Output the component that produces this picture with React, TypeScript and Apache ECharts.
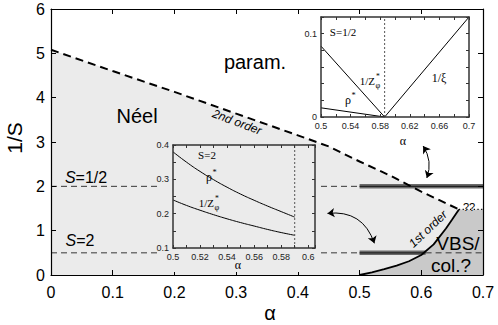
import React, { useEffect, useRef } from 'react';
import * as echarts from 'echarts';

const SANS = '"Liberation Sans", Arial, Helvetica, sans-serif';
const SERIF = '"Liberation Serif", "Times New Roman", serif';

// ---- main phase diagram (alpha vs 1/S) ----
const secondOrderAlpha = [0, 0.1, 0.2, 0.3, 0.4, 0.45, 0.5, 0.55, 0.6, 0.661];
const secondOrderInvS = [5.08, 4.6, 4.13, 3.64, 3.15, 2.9, 2.56, 2.24, 1.88, 1.48];
const firstOrderAlpha = [0.5, 0.52, 0.54, 0.56, 0.58, 0.6, 0.62, 0.64, 0.65, 0.661];
const firstOrderInvS = [0, 0.06, 0.13, 0.21, 0.31, 0.45, 0.69, 1.05, 1.25, 1.48];
const endpointAlpha = 0.661;
const endpointInvS = 1.48;
const alphaMax = 0.7;
const invSMax = 6;
const spinInvS = [2, 0.5]; // S=1/2, S=2
const thickFrom = [0.5, 0.5];
const thickTo = [0.7, 0.607];
const arrowFrom = [[0.603, 2.91], [0.448, 1.39]];
const arrowTo = [[0.609, 2.19], [0.524, 0.715]];
const arrowCurve = [0.25, 0.4];

// ---- inset 1 (S=1/2) ----
const in1Critical = 0.586;
const in1Start = 0.5;
const in1End = 0.7;
const in1InvZ = [0.085, 0]; // at in1Start, in1Critical
const in1Rho = [0.011, 0];
const in1InvXi = [0, 0.12]; // at in1Critical, in1End
const in1YMax = 0.12;

// ---- inset 2 (S=2) ----
const in2Alpha = [0.5, 0.51, 0.52, 0.53, 0.54, 0.55, 0.56, 0.57, 0.58, 0.59];
const in2Rho = [0.38, 0.35, 0.323, 0.299, 0.277, 0.257, 0.239, 0.222, 0.206, 0.19];
const in2InvZ = [0.24, 0.224, 0.21, 0.197, 0.185, 0.174, 0.164, 0.154, 0.145, 0.137];
const in2Critical = 0.59;
const in2XMax = 0.605;

const pairs = (xs: number[], ys: number[]) => xs.map((x, i) => [x, ys[i]]);

const lineBase = { type: 'line', showSymbol: false, symbol: 'none', silent: true };

function mainAxisX(pos: 'bottom' | 'top') {
  return {
    type: 'value', gridIndex: 0, position: pos, min: 0, max: alphaMax, interval: 0.1, z: 3,
    axisLine: { show: true, onZero: false, lineStyle: { color: '#000', width: 1.2 } },
    axisTick: { show: true, inside: true, length: 5, lineStyle: { color: '#000', width: 1 } },
    axisLabel: { show: pos === 'bottom', fontSize: 16, fontFamily: SANS, color: '#000', margin: 9 },
    splitLine: { show: false },
  };
}
function mainAxisY(pos: 'left' | 'right') {
  return {
    type: 'value', gridIndex: 0, position: pos, min: 0, max: invSMax, interval: 1, z: 3,
    axisLine: { show: true, onZero: false, lineStyle: { color: '#000', width: 1.2 } },
    axisTick: { show: true, inside: true, length: 5, lineStyle: { color: '#000', width: 1 } },
    axisLabel: { show: pos === 'left', fontSize: 16, fontFamily: SANS, color: '#000', margin: 6 },
    splitLine: { show: false },
  };
}
function insetAxis(gridIndex: number, pos: string, min: number, max: number, interval: number, fmt: (v: number) => string) {
  const showLabel = pos === 'bottom' || pos === 'left';
  return {
    type: 'value', gridIndex, position: pos, min, max, interval, z: 8,
    axisLine: { show: true, onZero: false, lineStyle: { color: '#333', width: 1.5 } },
    axisTick: { show: true, inside: true, length: 3, lineStyle: { color: '#333', width: 1 } },
    axisLabel: { show: showLabel, fontSize: 9, fontFamily: SANS, color: '#222', margin: 4, formatter: fmt, showMaxLabel: true },
    splitLine: { show: false },
  };
}
const everyOther = (base: number, step: number, digits: number) => (v: number) => {
  const k = Math.round((v - base) / step);
  if (Math.abs(v - (base + k * step)) > 1e-6 || k % 2 !== 0) return '';
  return String(+v.toFixed(digits));
};
const in1YFmt = (v: number) => (Math.abs(v) < 1e-9 ? '0' : Math.abs(v - 0.1) < 1e-6 ? '0.1' : '');

function txt(x: number, y: number, text: string, fontSize: number, opts: any = {}) {
  return {
    type: 'text', x, y, z: 10, rotation: opts.rotation || 0,
    style: {
      text, fontSize, fontFamily: opts.fontFamily || SANS, fontStyle: opts.fontStyle || 'normal',
      fill: '#000', align: opts.align || 'center', verticalAlign: 'middle', rich: opts.rich,
    },
  };
}
function zLabel(x: number, y: number, fs: number) {
  return {
    type: 'group', x, y, z: 10,
    children: [
      { type: 'text', x: 0, y: 0, z: 10, style: { text: '1/Z', fontSize: fs, fontFamily: SERIF, fill: '#000', align: 'right', verticalAlign: 'middle' } },
      { type: 'text', x: 1, y: -fs * 0.4, z: 10, style: { text: '*', fontSize: fs * 0.7, fontFamily: SERIF, fill: '#000', align: 'left', verticalAlign: 'middle' } },
      { type: 'text', x: 0.5, y: fs * 0.4, z: 10, style: { text: 'φ', fontSize: fs * 0.75, fontFamily: SERIF, fill: '#000', align: 'left', verticalAlign: 'middle' } },
    ],
  };
}
function rhoLabel(x: number, y: number, fs: number) {
  return {
    type: 'group', x, y, z: 10,
    children: [
      { type: 'text', x: 0, y: 0, z: 10, style: { text: 'ρ', fontSize: fs, fontFamily: SERIF, fill: '#000', align: 'right', verticalAlign: 'middle' } },
      { type: 'text', x: 0.5, y: -fs * 0.35, z: 10, style: { text: '*', fontSize: fs * 0.7, fontFamily: SERIF, fill: '#000', align: 'left', verticalAlign: 'middle' } },
    ],
  };
}

export default function App() {
  const ref = useRef<HTMLDivElement>(null);
  useEffect(() => {
    document.body.style.margin = '0';
    if (!ref.current) return;
    const chart = echarts.init(ref.current, null, { renderer: 'svg' });

    const series: any[] = [];
    // light grey Neel area below 2nd order line
    series.push({ ...lineBase, xAxisIndex: 0, yAxisIndex: 0, z: 2,
      data: pairs(secondOrderAlpha, secondOrderInvS),
      lineStyle: { width: 0 }, areaStyle: { color: '#ebebeb', opacity: 1 } });
    // darker VBS area
    series.push({ ...lineBase, xAxisIndex: 0, yAxisIndex: 0, z: 2,
      data: [...pairs(firstOrderAlpha, firstOrderInvS), [alphaMax, endpointInvS]],
      lineStyle: { width: 0 }, areaStyle: { color: '#c9c9c9', opacity: 1 } });
    // thin dashed spin levels
    spinInvS.forEach((lvl, i) => {
      series.push({ ...lineBase, xAxisIndex: 0, yAxisIndex: 0, z: 2,
        data: [[0, lvl], [thickFrom[i], lvl]],
        lineStyle: { color: '#222', width: 0.9, type: [6, 4] } });
      if (thickTo[i] < alphaMax) {
        series.push({ ...lineBase, xAxisIndex: 0, yAxisIndex: 0, z: 2,
          data: [[thickTo[i], lvl], [alphaMax, lvl]],
          lineStyle: { color: '#222', width: 0.9, type: [6, 4] } });
      }
      series.push({ ...lineBase, xAxisIndex: 0, yAxisIndex: 0, z: 2,
        data: [[thickFrom[i], lvl], [thickTo[i], lvl]],
        lineStyle: { color: '#6a6a6a', width: 4.5 } });
      series.push({ ...lineBase, xAxisIndex: 0, yAxisIndex: 0, z: 2,
        data: [[thickFrom[i], lvl], [thickTo[i], lvl]],
        lineStyle: { color: '#222', width: 1.4 } });
    });
    // 1st order line
    series.push({ ...lineBase, xAxisIndex: 0, yAxisIndex: 0, z: 2,
      data: pairs(firstOrderAlpha, firstOrderInvS),
      lineStyle: { color: '#000', width: 1.8 } });
    // dotted line from endpoint
    series.push({ ...lineBase, xAxisIndex: 0, yAxisIndex: 0, z: 2,
      data: [[endpointAlpha, endpointInvS], [alphaMax, endpointInvS]],
      lineStyle: { color: '#000', width: 1.2, type: [1.2, 2.5] } });
    // 2nd order dashed line
    series.push({ ...lineBase, xAxisIndex: 0, yAxisIndex: 0, z: 2,
      data: pairs(secondOrderAlpha, secondOrderInvS),
      lineStyle: { color: '#000', width: 2, type: [8, 5] } });
    // arrows
    series.push({ type: 'lines', coordinateSystem: 'cartesian2d', xAxisIndex: 0, yAxisIndex: 0, z: 9, silent: true,
      symbol: ['arrow', 'arrow'], symbolSize: 7,
      lineStyle: { color: '#000', width: 1, opacity: 1 },
      data: arrowFrom.map((f, i) => ({ coords: [f, arrowTo[i]], lineStyle: { curveness: arrowCurve[i] } })) });

    // inset 1
    series.push({ ...lineBase, xAxisIndex: 2, yAxisIndex: 2, z: 7,
      data: [[in1Start, in1InvZ[0]], [in1Critical, in1InvZ[1]]], lineStyle: { color: '#000', width: 1 } });
    series.push({ ...lineBase, xAxisIndex: 2, yAxisIndex: 2, z: 7,
      data: [[in1Start, in1Rho[0]], [in1Critical, in1Rho[1]]], lineStyle: { color: '#000', width: 1 } });
    series.push({ ...lineBase, xAxisIndex: 2, yAxisIndex: 2, z: 7,
      data: [[in1Critical, in1InvXi[0]], [in1End, in1InvXi[1]]], lineStyle: { color: '#000', width: 1 } });
    series.push({ ...lineBase, xAxisIndex: 2, yAxisIndex: 2, z: 7,
      data: [[in1Critical, 0], [in1Critical, in1YMax]], lineStyle: { color: '#555', width: 1, type: [2, 2] } });

    // inset 2
    series.push({ ...lineBase, xAxisIndex: 4, yAxisIndex: 4, z: 7,
      data: pairs(in2Alpha, in2Rho), smooth: true, lineStyle: { color: '#000', width: 1 } });
    series.push({ ...lineBase, xAxisIndex: 4, yAxisIndex: 4, z: 7,
      data: pairs(in2Alpha, in2InvZ), smooth: true, lineStyle: { color: '#000', width: 1 } });
    series.push({ ...lineBase, xAxisIndex: 4, yAxisIndex: 4, z: 7,
      data: [[in2Critical, 0.1], [in2Critical, 0.4]], lineStyle: { color: '#555', width: 1, type: [2, 2] } });

    const in2XFmt = everyOther(0.5, 0.01, 2);
    const in2YFmt = everyOther(0.1, 0.05, 1);
    const in1XFmt = everyOther(0.5, 0.02, 2);

    chart.setOption({
      animation: false,
      backgroundColor: '#fff',
      grid: [
        { left: 51, top: 9, width: 432, height: 266, show: false },
        { left: 321, top: 17, width: 148, height: 100, show: true, backgroundColor: '#fff', borderWidth: 0, z: 6 },
        { left: 173, top: 145, width: 142, height: 103, show: false },
      ],
      xAxis: [
        mainAxisX('bottom'), mainAxisX('top'),
        insetAxis(1, 'bottom', in1Start, in1End, 0.02, in1XFmt), insetAxis(1, 'top', in1Start, in1End, 0.02, in1XFmt),
        insetAxis(2, 'bottom', 0.5, in2XMax, 0.01, in2XFmt), insetAxis(2, 'top', 0.5, in2XMax, 0.01, in2XFmt),
      ],
      yAxis: [
        mainAxisY('left'), mainAxisY('right'),
        insetAxis(1, 'left', 0, in1YMax, 0.02, in1YFmt), insetAxis(1, 'right', 0, in1YMax, 0.02, in1YFmt),
        insetAxis(2, 'left', 0.1, 0.4, 0.05, in2YFmt), insetAxis(2, 'right', 0.1, 0.4, 0.05, in2YFmt),
      ],
      series,
      graphic: [
        { type: 'rect', z: 5, silent: true, shape: { x: 157, y: 143, width: 161, height: 129 }, style: { fill: '#ebebeb' } },
        txt(14, 138, '1/S', 21, { rotation: Math.PI / 2 }),
        txt(270, 313, 'α', 20),
        txt(255, 62, 'param.', 20),
        txt(137, 116, 'Néel', 20),
        txt(237, 122, '2nd order', 12, { rotation: -0.36, fontStyle: 'italic' }),
        txt(428, 229, '1st order', 12, { rotation: 0.76, fontStyle: 'italic' }),
        txt(86, 177, '{i|S}=1/2', 16, { rich: { i: { fontStyle: 'italic', fontSize: 16, fontFamily: SANS, fill: '#000' } } }),
        txt(80, 240, '{i|S}=2', 16, { rich: { i: { fontStyle: 'italic', fontSize: 16, fontFamily: SANS, fill: '#000' } } }),
        txt(458, 243.5, 'VBS/', 19),
        txt(451, 265.5, 'col.?', 19),
        txt(469, 207, '??', 11),
        // inset 1 labels
        txt(343, 32, 'S=1/2', 11, { fontFamily: SERIF }),
        zLabel(375, 81, 11),
        txt(439, 78, '1/ξ', 12, { fontFamily: SERIF }),
        rhoLabel(351, 100, 12),
        txt(403, 141, 'α', 12, { fontFamily: SERIF }),
        // inset 2 labels
        txt(207, 155, 'S=2', 11, { fontFamily: SERIF }),
        rhoLabel(212, 177, 12),
        zLabel(214, 203, 11),
        txt(238, 265, 'α', 12, { fontFamily: SERIF }),
      ],
    });
    return () => chart.dispose();
  }, []);
  return <div ref={ref} style={{ width: 498, height: 325 }} />;
}
